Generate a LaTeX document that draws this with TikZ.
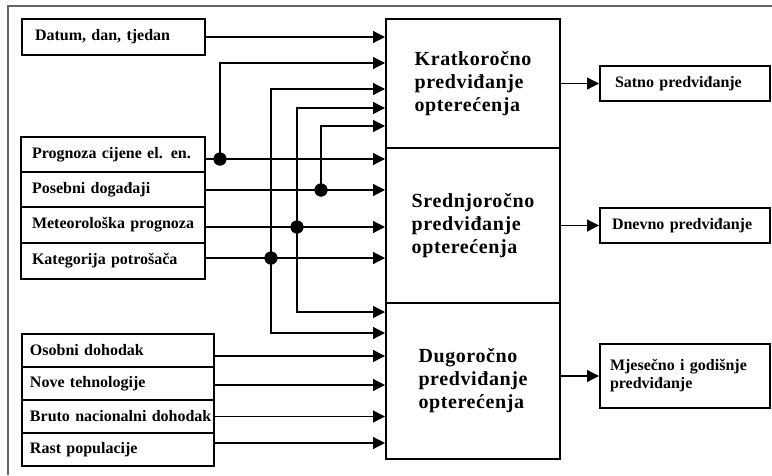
\documentclass[tikz,border=0pt]{standalone}
\usepackage{fontspec}
\setmainfont{Liberation Serif}
\newfontfamily\spacedserif{Liberation Serif}[LetterSpace=3]
\usetikzlibrary{arrows.meta}
\begin{document}
\begin{tikzpicture}[x=1pt,y=-1pt,
  box/.style={draw=black,line width=2pt,inner ysep=0pt},
  lbox/.style={box,font=\fontsize{16}{18}\selectfont\bfseries,align=left},
  lboxA/.style={lbox,text width=157pt,inner xsep=13pt,minimum height=36pt},
  lboxB/.style={lbox,text width=162pt,inner xsep=11pt,minimum height=35pt},
  lboxC/.style={lbox,text width=176pt,inner xsep=8pt,minimum height=33pt},
  mbox/.style={box,minimum width=174pt,inner xsep=0pt,align=left,
    font=\spacedserif\bfseries\fontsize{20}{23}\selectfont},
  rbox/.style={box,font=\fontsize{16}{18}\selectfont\bfseries,align=left},
  hline/.style={draw=black,line width=1.2pt},
  arr/.style={hline,-{Triangle[length=12pt,width=12pt]}},
  vline/.style={draw=black,line width=2.2pt,line cap=rect},
  dot/.style={circle,fill=black,inner sep=0pt,minimum size=13pt},
  frame/.style={draw=black!60,line width=1.5pt}
]
\fill[white] (0,0) rectangle (772,475);
\useasboundingbox (0,0) rectangle (772,475);
\draw[frame] (8,475) -- (8,6) -- (772,6);

% left input boxes
\node[lboxA] (datum) at (113.5,37) {\mbox{Datum, dan, tjedan}};
\node[lboxB] (prog) at (113,154.5) {\mbox{Prognoza cijene el. en.}};
\node[lboxB] (pos) at (113,189.5) {\mbox{Posebni događaji}};
\node[lboxB,minimum height=36pt] (met) at (113,225) {\mbox{Meteorološka prognoza}};
\node[lboxB,minimum height=36pt] (kat) at (113,261) {\mbox{Kategorija potrošača}};
\node[lboxC] (os) at (118,350.5) {\mbox{Osobni dohodak}};
\node[lboxC] (nov) at (118,383.5) {\mbox{Nove tehnologije}};
\node[lboxC] (bru) at (118,416.5) {\mbox{Bruto nacionalni dohodak}};
\node[lboxC] (rast) at (118,449.5) {\mbox{Rast populacije}};

% middle boxes
\node[mbox,minimum height=129pt] (k) at (473,83.5) {Kratkoročno\\predviđanje\\opterećenja};
\node[mbox,minimum height=155pt] (s) at (473,225.5) {Srednjoročno\\predviđanje\\opterećenja};
\node[mbox,minimum height=156pt] (d) at (473,381) {Dugoročno\\predviđanje\\opterećenja};

% right output boxes
\node[rbox,text width=140pt,inner xsep=15pt,minimum height=35pt] (sat) at (685,83.5) {\mbox{Satno predviđanje}};
\node[rbox,text width=146pt,inner xsep=12pt,minimum height=35pt] (dne) at (685,225.5) {\mbox{Dnevno predviđanje}};
\node[rbox,text width=150pt,inner xsep=10pt,minimum height=64pt] (mje) at (685,376) {Mjesečno i godišnje\\predviđanje};

% outputs
\draw[arr] (k.east) -- (sat.west);
\draw[arr] (s.east) -- (dne.west);
\draw[arr] (mje.west -| d.east) -- (mje.west);

% input line start points
\coordinate (pO) at ([yshift=-4.5pt]prog.east);
\coordinate (sO) at ([yshift=-0.5pt]pos.east);
\coordinate (mO) at ([yshift=-2pt]met.east);
\coordinate (kO) at ([yshift=3pt]kat.east);
\coordinate (oO) at ([yshift=-5.5pt]os.east);
\coordinate (nO) at ([yshift=-1.5pt]nov.east);
\coordinate (bO) at (bru.east);
\coordinate (rO) at ([yshift=6.5pt]rast.east);

\draw[arr] (datum.east) -- (datum.east -| k.west);
\draw[arr] (pO) -- (pO -| s.west);
\draw[arr] (sO) -- (sO -| s.west);
\draw[arr] (mO) -- (mO -| s.west);
\draw[arr] (kO) -- (kO -| s.west);
\draw[arr] (oO) -- (oO -| d.west);
\draw[arr] (nO) -- (nO -| d.west);
\draw[arr] (bO) -- (bO -| d.west);
\draw[arr] (rO) -- (rO -| d.west);

% branch corners
\coordinate (t1) at (220,63);
\coordinate (t2) at (321,126);
\coordinate (t3) at (297,108);
\coordinate (u3) at (297,312);
\coordinate (t4) at (271,89);
\coordinate (u4) at (271,333);

\node[dot] (d1) at (220,159) {};
\node[dot] (d2) at (321,190) {};
\node[dot] (d3) at (297,227) {};
\node[dot] (d4) at (271,258) {};

\draw[vline] (d1.center) -- (t1);
\draw[arr] (t1) -- (t1 -| k.west);
\draw[vline] (d2.center) -- (t2);
\draw[arr] (t2) -- (t2 -| k.west);
\draw[vline] (t3) -- (u3);
\draw[arr] (t3) -- (t3 -| k.west);
\draw[arr] (u3) -- (u3 -| d.west);
\draw[vline] (t4) -- (u4);
\draw[arr] (t4) -- (t4 -| k.west);
\draw[arr] (u4) -- (u4 -| d.west);

% dots drawn on top of the lines
\fill (d1.center) circle (6.5pt);
\fill (d2.center) circle (6.5pt);
\fill (d3.center) circle (6.5pt);
\fill (d4.center) circle (6.5pt);
\end{tikzpicture}
\end{document}
